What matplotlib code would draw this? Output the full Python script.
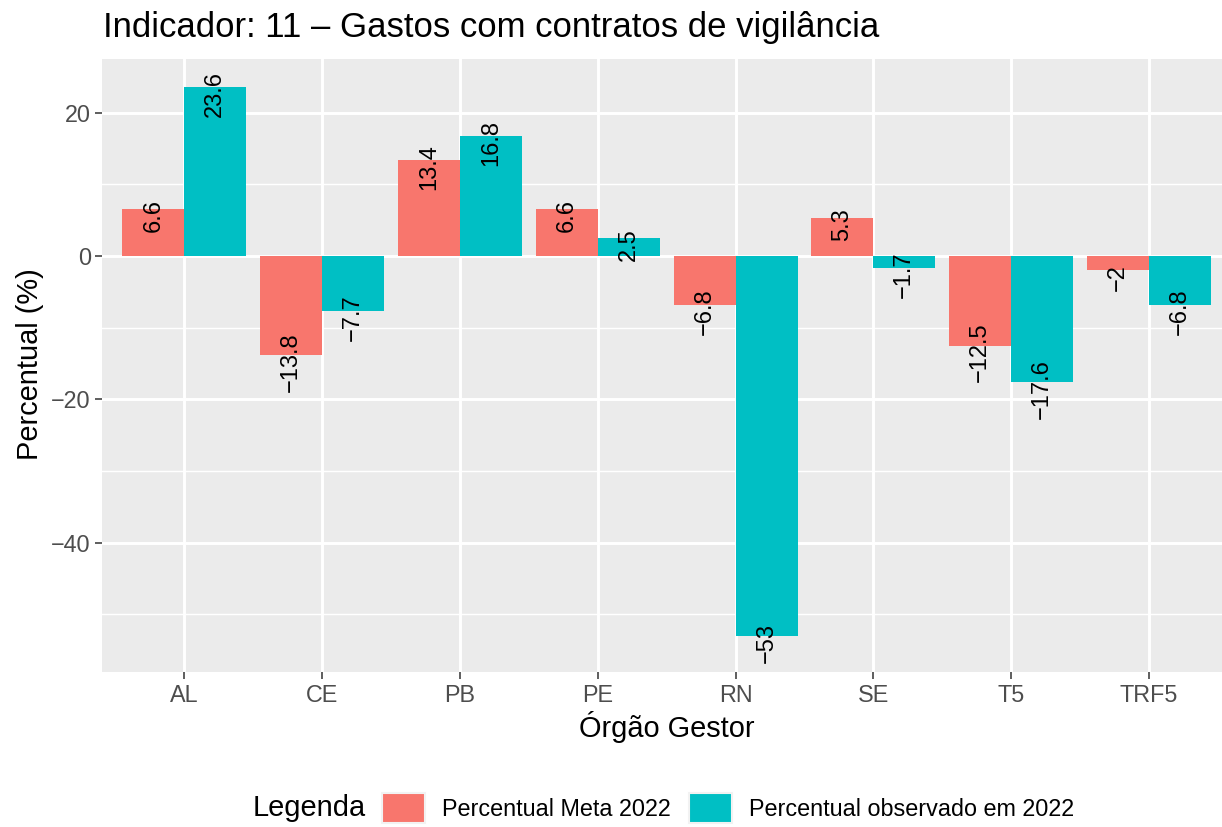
import numpy as np
import matplotlib
matplotlib.use("Agg")
import matplotlib.pyplot as plt
from matplotlib.patches import Patch

plt.rcParams['font.family'] = ['Liberation Sans', 'DejaVu Sans']

# dados
orgaos = ['AL', 'CE', 'PB', 'PE', 'RN', 'SE', 'T5', 'TRF5']
meta_2022 = [6.6, -13.8, 13.4, 6.6, -6.8, 5.3, -12.5, -2]
observado_2022 = [23.6, -7.7, 16.8, 2.5, -53, -1.7, -17.6, -6.8]
yticks = [-40, -20, 0, 20]
yminor = [-50, -30, -10, 10]

cor_meta = '#F8766D'
cor_obs = '#00BFC4'

W, H = 1222, 827
fig = plt.figure(figsize=(W / 100, H / 100), dpi=100)

# painel (px -> fração)
px_l, px_r, px_t, px_b = 102, 1222, 59, 671.7
ax = fig.add_axes([px_l / W, 1 - px_b / H, (px_r - px_l) / W, (px_b - px_t) / H])
ax.set_facecolor('#EBEBEB')
for s in ax.spines.values():
    s.set_visible(False)

x = np.arange(len(orgaos))
larg = 0.45
ax.bar(x - larg / 2, meta_2022, width=larg, color=cor_meta, zorder=3)
ax.bar(x + larg / 2, observado_2022, width=larg, color=cor_obs, zorder=3)

# rótulos dos valores
def fmt(v):
    return f"{v:g}".replace('-', '\u2212')

for xs, vals in [(x - larg / 2, meta_2022), (x + larg / 2, observado_2022)]:
    for xi, v in zip(xs, vals):
        ax.annotate(fmt(v), (xi, v), xytext=(0, -5.0), textcoords='offset points',
                    rotation=90, rotation_mode='anchor', ha='center', va='center',
                    fontsize=17, color='black', zorder=4)

ax.set_xlim(-0.597, 7.53)
ax.set_ylim(-58.03, 27.5)

ax.set_yticks(yticks)
ax.set_yticks(yminor, minor=True)
ax.set_yticklabels([fmt(t) for t in yticks])
ax.set_xticks(x)
ax.set_xticklabels(orgaos)

ax.grid(True, which='major', color='white', linewidth=2.1, zorder=0)
ax.grid(True, which='minor', axis='y', color='white', linewidth=1.05, zorder=0)
ax.set_axisbelow(True)

ax.tick_params(axis='both', which='major', length=5, width=1.1, color='#333333',
               labelcolor='#4D4D4D', labelsize=16.8)
ax.tick_params(axis='y', which='major', pad=3)
ax.tick_params(axis='x', which='major', pad=3.5)
ax.tick_params(which='minor', length=0)

# títulos
fig.text(103 / W, 1 - 37 / H, 'Indicador: 11 \u2013 Gastos com contratos de vigilância',
         fontsize=25, ha='left', va='baseline', color='black')
fig.text(30 / W, 1 - 364 / H, 'Percentual (%)', rotation=90, fontsize=20.9,
         ha='center', va='center', color='black')
fig.text(667 / W, 1 - 727 / H, 'Órgão Gestor', fontsize=20.9,
         ha='center', va='center', color='black')

# legenda
fig.text(253 / W, 1 - 808 / H, 'Legenda', fontsize=20.9, ha='left', va='center')
handles = [Patch(facecolor=cor_meta, edgecolor='#F2F2F2', linewidth=1.5),
           Patch(facecolor=cor_obs, edgecolor='#F2F2F2', linewidth=1.5)]
fig.legend(handles, ['Percentual Meta 2022', 'Percentual observado em 2022'],
           loc='center left', bbox_to_anchor=(382 / W, 1 - 808 / H), ncol=2,
           frameon=False, fontsize=16.8, handlelength=1.84, handleheight=1.66,
           handletextpad=0.72, columnspacing=0.8, borderpad=0, borderaxespad=0)

fig.savefig('out.png', dpi=100)
